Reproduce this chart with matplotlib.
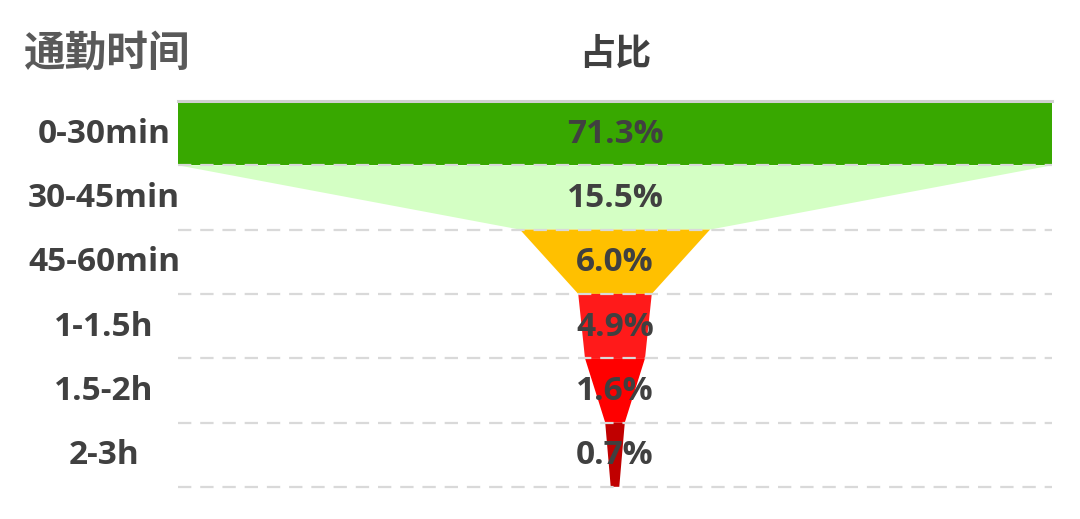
import matplotlib.pyplot as plt
from matplotlib.patches import Polygon

# 数据
categories = ['0-30min', '30-45min', '45-60min', '1-1.5h', '1.5-2h', '2-3h']
shares = [71.3, 15.5, 6.0, 4.9, 1.6, 0.7]
colors = ['#38A800', '#D4FFC4', '#FFC000', '#FF1A1A', '#FF0000', '#C00000']
header_left = '通勤时间'
header_right = '占比'

plt.rcParams['font.family'] = ['Open Sans', 'Noto Sans CJK SC', 'DejaVu Sans']

W, H = 1080, 519
fig = plt.figure(figsize=(W / 100, H / 100), dpi=100)
ax = fig.add_axes([0, 0, 1, 1])
ax.set_xlim(0, W)
ax.set_ylim(H, 0)
ax.axis('off')

# 版面 (像素坐标)
x_left, x_right = 178, 1052
cx = (x_left + x_right) / 2
top = 101
row_h = 64.3
scale = (x_right - x_left) / max(shares)

for i, (cat, v, c) in enumerate(zip(categories, shares, colors)):
    y0 = top + i * row_h
    y1 = y0 + row_h
    w_bot = v * scale
    w_top = w_bot if i == 0 else shares[i - 1] * scale
    poly = Polygon([(cx - w_top / 2, y0), (cx + w_top / 2, y0),
                    (cx + w_bot / 2, y1), (cx - w_bot / 2, y1)],
                   closed=True, facecolor=c, edgecolor='none', zorder=1)
    ax.add_patch(poly)
    # 虚线
    ax.plot([x_left, x_right], [y1, y1], color='#D9D9D9', lw=1.6,
            dashes=(6, 4), zorder=2)
    ax.text(cx, (y0 + y1) / 2 + 1, f'{v:.1f}%', ha='center', va='center',
            fontsize=24, fontweight='bold', color='#404040', zorder=3)
    ax.text(104, (y0 + y1) / 2 + 1, cat, ha='center', va='center',
            fontsize=24, fontweight='bold', color='#404040', zorder=3)

# 顶部实线
ax.plot([x_left, x_right], [top, top], color='#D0D0D0', lw=2.2, zorder=2)

ax.text(24, 54, header_left, ha='left', va='center', fontsize=30,
        fontweight='bold', color='#595959',
        family=['Noto Sans CJK SC', 'DejaVu Sans'])
ax.text(cx, 54, header_right, ha='center', va='center', fontsize=26,
        fontweight='bold', color='#404040',
        family=['Noto Sans CJK SC', 'DejaVu Sans'])

fig.savefig('out.png', dpi=100)
